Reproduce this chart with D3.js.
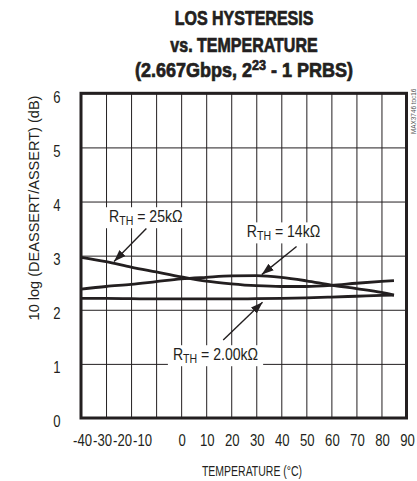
<!DOCTYPE html>
<html>
<head>
<meta charset="utf-8">
<script src="https://cdn.jsdelivr.net/npm/d3@7"></script>
<style>
  html, body { margin: 0; padding: 0; background: #fff; }
  svg { display: block; }
  text { font-family: "Liberation Sans", Arial, Helvetica, sans-serif; fill: #231f20; }
</style>
</head>
<body>
<div id="chart"></div>
<script>
  // values
  const temps = [-40, -30, -20, -10, 0, 10, 20, 30, 40, 50, 60, 70, 80, 85];
  const r25k = [2.97, 2.89, 2.79, 2.70, 2.61, 2.53, 2.48, 2.445, 2.43, 2.43, 2.45, 2.49, 2.525, 2.54];
  const r14k = [2.38, 2.43, 2.47, 2.52, 2.57, 2.60, 2.625, 2.63, 2.60, 2.535, 2.455, 2.39, 2.32, 2.27];
  const r2k = [2.21, 2.21, 2.205, 2.20, 2.20, 2.20, 2.20, 2.205, 2.21, 2.22, 2.235, 2.25, 2.265, 2.27];

  const xTicks = [-40, -30, -20, -10, 0, 10, 20, 30, 40, 50, 60, 70, 80, 90];
  const yTicks = [0, 1, 2, 3, 4, 5, 6];

  const titleLines = ["LOS HYSTERESIS", "vs. TEMPERATURE"];

  // annotation text + arrow (label at lx,ly; arrow from ax,ay to tip tx,ty), all in data units
  const labels = [
    { value: "25kΩ", lx: -28.8, ly: 3.62, ax: -13.9, ay: 3.50, tx: -26.8, ty: 2.89 },
    { value: "14kΩ", lx: 26.2, ly: 3.34, ax: 46.1, ay: 3.17, tx: 32.2, ty: 2.65 },
    { value: "2.00kΩ", lx: -3.3, ly: 1.07, ax: 16.8, ay: 1.44, tx: 32.5, ty: 2.14 }
  ];

  (function () {
    const W = 417, H = 481;
    const pL = 81, pR = 406.5, pT = 93.3, pB = 418;
    const narrow = 0.82; // the reference uses a condensed face

    const svg = d3.select("#chart").append("svg")
      .attr("width", W)
      .attr("height", H);

    const x = d3.scaleLinear().domain([-40, 90]).range([pL, pR]);
    const y = d3.scaleLinear().domain([0, 6]).range([pB, pT]);

    // tick labels on the reference are squeezed together on the negative side
    const xLabel = d3.scaleLinear()
      .domain([-40, -10, 0, 90])
      .range([x(-40) + 1, x(-40) + 61, x(0) + 0.5, x(90) + 0.5]);

    // text drawn at (px,py), squeezed horizontally by sx
    function label(parent, px, py, sx, size, rot) {
      return parent.append("text")
        .attr("transform", `translate(${px},${py})${rot ? ` rotate(${rot})` : ""} scale(${sx},1)`)
        .attr("font-size", size);
    }

    svg.append("defs").append("marker")
      .attr("id", "head")
      .attr("markerUnits", "userSpaceOnUse")
      .attr("viewBox", "0 -5 12 10")
      .attr("refX", 12)
      .attr("refY", 0)
      .attr("markerWidth", 12)
      .attr("markerHeight", 10)
      .attr("orient", "auto")
      .append("path")
      .attr("d", "M0,-4.2L12,0L0,4.2Z")
      .attr("fill", "#231f20");

    // grid
    svg.append("g")
      .attr("transform", `translate(0,${pB})`)
      .call(d3.axisBottom(x).tickValues(xTicks).tickSize(-(pB - pT)).tickFormat(""))
      .call(g => g.select(".domain").remove())
      .selectAll("line")
      .attr("stroke", "#231f20")
      .attr("stroke-width", 1);

    svg.append("g")
      .attr("transform", `translate(${pL},0)`)
      .call(d3.axisLeft(y).tickValues(yTicks).tickSize(-(pR - pL)).tickFormat(""))
      .call(g => g.select(".domain").remove())
      .selectAll("line")
      .attr("stroke", "#231f20")
      .attr("stroke-width", 1);

    // tick labels
    const xAx = svg.append("g")
      .attr("transform", `translate(0,${pB})`)
      .call(d3.axisBottom(xLabel).tickValues(xTicks).tickSize(0).tickPadding(17).tickFormat(d => String(d)))
      .call(g => g.select(".domain").remove());
    xAx.attr("font-family", null).attr("font-size", 16);
    xAx.selectAll("text")
      .attr("fill", "#231f20")
      .attr("transform", `scale(${narrow},1)`);

    const yAx = svg.append("g")
      .attr("transform", `translate(${pL},0)`)
      .call(d3.axisLeft(y).tickValues(yTicks).tickSize(0).tickFormat(d => String(d)))
      .call(g => g.select(".domain").remove());
    yAx.attr("font-family", null).attr("font-size", 16);
    yAx.selectAll("text")
      .attr("fill", "#231f20")
      .attr("text-anchor", "middle")
      .attr("x", -24 / narrow)
      .attr("dy", "0.55em")
      .attr("transform", `scale(${narrow},1)`);

    // curves
    const line = d3.line()
      .x((d, i) => x(temps[i]))
      .y(d => y(d))
      .curve(d3.curveMonotoneX);

    svg.append("g")
      .selectAll("path")
      .data([r25k, r14k, r2k])
      .join("path")
      .attr("fill", "none")
      .attr("stroke", "#231f20")
      .attr("stroke-width", 2.8)
      .attr("d", line);

    // frame
    svg.append("rect")
      .attr("x", pL)
      .attr("y", pT)
      .attr("width", pR - pL)
      .attr("height", pB - pT)
      .attr("fill", "none")
      .attr("stroke", "#231f20")
      .attr("stroke-width", 3);

    // annotations
    const ann = svg.append("g");
    labels.forEach(l => {
      const g = ann.append("g");
      const t = label(g, x(l.lx), y(l.ly), 0.88, 16);
      t.append("tspan").text("R");
      t.append("tspan").attr("font-size", 12).attr("dy", 3).text("TH");
      t.append("tspan").attr("dy", -3).text(" = " + l.value);
      const b = t.node().getBBox();
      g.insert("rect", "text")
        .attr("x", x(l.lx) + b.x * 0.88 - 5)
        .attr("y", y(l.ly) + b.y)
        .attr("width", b.width * 0.88 + 10)
        .attr("height", b.height + 1)
        .attr("fill", "#fff");
      ann.append("line")
        .attr("x1", x(l.ax))
        .attr("y1", y(l.ay))
        .attr("x2", x(l.tx))
        .attr("y2", y(l.ty))
        .attr("stroke", "#231f20")
        .attr("stroke-width", 1.4)
        .attr("marker-end", "url(#head)");
    });

    // titles (heavy condensed face in the reference, so add a thin stroke)
    const title = svg.append("g")
      .attr("font-weight", "bold")
      .attr("stroke", "#231f20")
      .attr("stroke-width", 0.7);
    titleLines.forEach((s, i) => {
      label(title, 244, 25 + i * 27, 0.8, 20)
        .attr("text-anchor", "middle")
        .text(s);
    });
    const t3 = label(title, 244, 77, 0.9, 20)
      .attr("text-anchor", "middle");
    t3.append("tspan").text("(2.667Gbps, 2");
    t3.append("tspan").attr("font-size", 14).attr("dy", -7).text("23");
    t3.append("tspan").attr("dy", 7).text(" - 1 PRBS)");

    label(svg, 252, 476, 0.7, 15)
      .attr("text-anchor", "middle")
      .text("TEMPERATURE (°C)");

    label(svg, 38.5, 208, 0.97, 15, -90)
      .attr("text-anchor", "middle")
      .text("10 log (DEASSERT/ASSERT) (dB)");

    label(svg, 416, 134, 0.85, 7.5, -90)
      .style("fill", "#555")
      .text("MAX3746 toc16");
  })();
</script>
</body>
</html>
